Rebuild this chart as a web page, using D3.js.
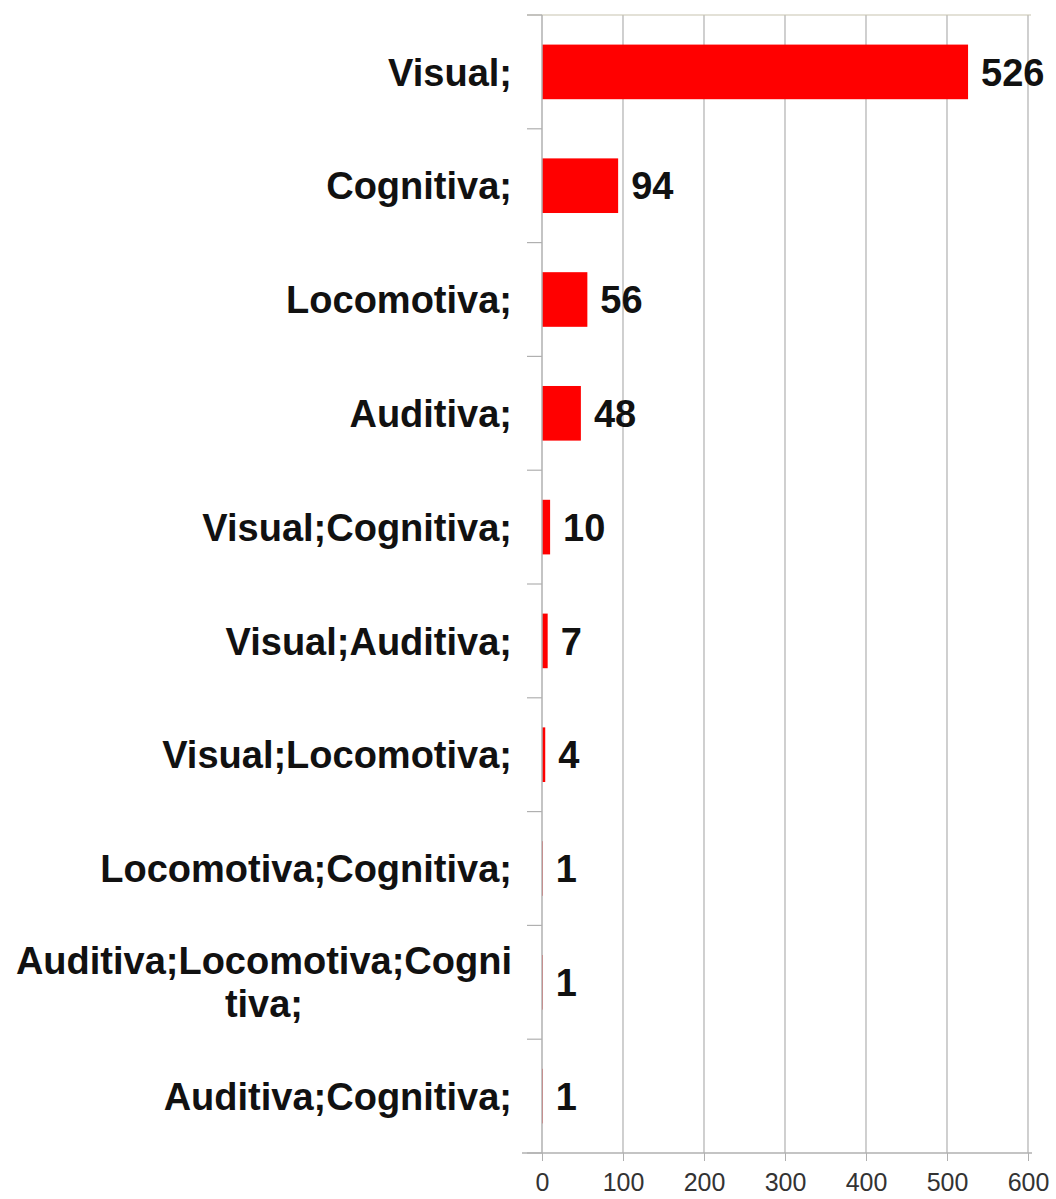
<!DOCTYPE html>
<html>
<head>
  <meta charset="utf-8">
  <title>Deficiencias</title>
  <script src="https://d3js.org/d3.v7.min.js"></script>
  <style>
    body { margin: 0; background: #fff; }
    text { font-family: "Liberation Sans", Arial, sans-serif; }
  </style>
</head>
<body>
  <div id="container"></div>
  <script>
  // chart data
  const categories = ["Visual;", "Cognitiva;", "Locomotiva;", "Auditiva;", "Visual;Cognitiva;",
    "Visual;Auditiva;", "Visual;Locomotiva;", "Locomotiva;Cognitiva;",
    "Auditiva;Locomotiva;Cognitiva;", "Auditiva;Cognitiva;"];
  const values = [526, 94, 56, 48, 10, 7, 4, 1, 1, 1];
  // how the long label wraps in the original
  const labelLines = {"Auditiva;Locomotiva;Cognitiva;": ["Auditiva;Locomotiva;Cogni", "tiva;"]};
  const xTicks = [0, 100, 200, 300, 400, 500, 600];

  const width = 1056,
    height = 1199;
  const margin = {top: 15, right: 28, bottom: 46, left: 542};

  const svg = d3.select("#container")
    .append("svg")
    .attr("width", width)
    .attr("height", height);

  const x = d3.scaleLinear()
    .domain([0, 600])
    .range([margin.left, width - margin.right]);

  const y = d3.scaleBand()
    .domain(categories)
    .range([margin.top, height - margin.bottom])
    .paddingInner(0.52)
    .paddingOuter(0.26);

  const gridColor = "#b0b0b0";

  // vertical gridlines
  svg.append("g")
    .selectAll("line")
    .data(xTicks.slice(1))
    .enter()
    .append("line")
    .attr("x1", d => x(d)).attr("x2", d => x(d))
    .attr("y1", margin.top).attr("y2", height - margin.bottom)
    .attr("stroke", gridColor)
    .attr("stroke-width", 1.2);

  // top border
  svg.append("line")
    .attr("x1", margin.left - 15).attr("x2", width - margin.right + 3)
    .attr("y1", margin.top).attr("y2", margin.top)
    .attr("stroke", "#c8c4b0")
    .attr("stroke-width", 1.2);

  // bars
  svg.append("g")
    .selectAll("rect")
    .data(values)
    .enter()
    .append("rect")
    .attr("x", x(0))
    .attr("y", (d, i) => y(categories[i]))
    .attr("width", d => x(d) - x(0))
    .attr("height", y.bandwidth())
    .attr("fill", "#ff0000");

  // value labels
  svg.append("g")
    .selectAll("text")
    .data(values)
    .enter()
    .append("text")
    .attr("x", d => x(d) + 13)
    .attr("y", (d, i) => y(categories[i]) + y.bandwidth() / 2)
    .attr("dy", "0.36em")
    .attr("font-size", "38px")
    .attr("font-weight", "bold")
    .attr("fill", "#111")
    .text(d => d);

  // left axis with ticks between bands
  const bounds = y.domain().map(c => y(c) - y.step() * y.paddingInner() / 2);
  bounds[0] = margin.top;
  bounds.push(height - margin.bottom);
  const leftAxis = svg.append("g");
  leftAxis.append("line")
    .attr("x1", x(0)).attr("x2", x(0))
    .attr("y1", margin.top).attr("y2", height - margin.bottom)
    .attr("stroke", gridColor)
    .attr("stroke-width", 1.5);
  leftAxis.selectAll(".tick")
    .data(bounds)
    .enter()
    .append("line")
    .attr("class", "tick")
    .attr("x1", x(0) - 15).attr("x2", x(0))
    .attr("y1", d => d).attr("y2", d => d)
    .attr("stroke", gridColor)
    .attr("stroke-width", 1.2);

  // category labels
  const labelX = x(0) - 30;
  const catLabels = svg.append("g")
    .attr("font-size", "38px")
    .attr("font-weight", "bold")
    .attr("fill", "#111");
  categories.forEach(function(c) {
    const lines = labelLines[c] || [c];
    const cy = y(c) + y.bandwidth() / 2;
    const lineH = 43;
    const t = catLabels.append("text");
    lines.forEach(function(l, j) {
      t.append("tspan")
        .attr("y", cy + (j - (lines.length - 1) / 2) * lineH)
        .attr("dy", "0.36em")
        .text(l);
    });
    if (lines.length === 1) {
      t.attr("text-anchor", "end").selectAll("tspan").attr("x", labelX);
    } else {
      let maxW = 0;
      t.selectAll("tspan").each(function() {
        maxW = Math.max(maxW, this.getComputedTextLength());
      });
      t.attr("text-anchor", "middle").selectAll("tspan").attr("x", labelX - maxW / 2);
    }
  });

  // bottom axis
  const xAxis = svg.append("g")
    .attr("transform", "translate(0," + (height - margin.bottom) + ")")
    .call(d3.axisBottom(x).tickValues(xTicks).tickSize(8).tickPadding(12));
  xAxis.select(".domain")
    .attr("d", "M" + (margin.left - 20) + ",0H" + (width - margin.right + 4))
    .attr("stroke", gridColor)
    .attr("stroke-width", 1.5);
  xAxis.selectAll(".tick line").attr("stroke", gridColor);
  xAxis.selectAll(".tick text")
    .attr("font-size", "25px")
    .attr("font-family", "\"Liberation Sans\", Arial, sans-serif")
    .attr("fill", "#333");
  </script>
</body>
</html>
